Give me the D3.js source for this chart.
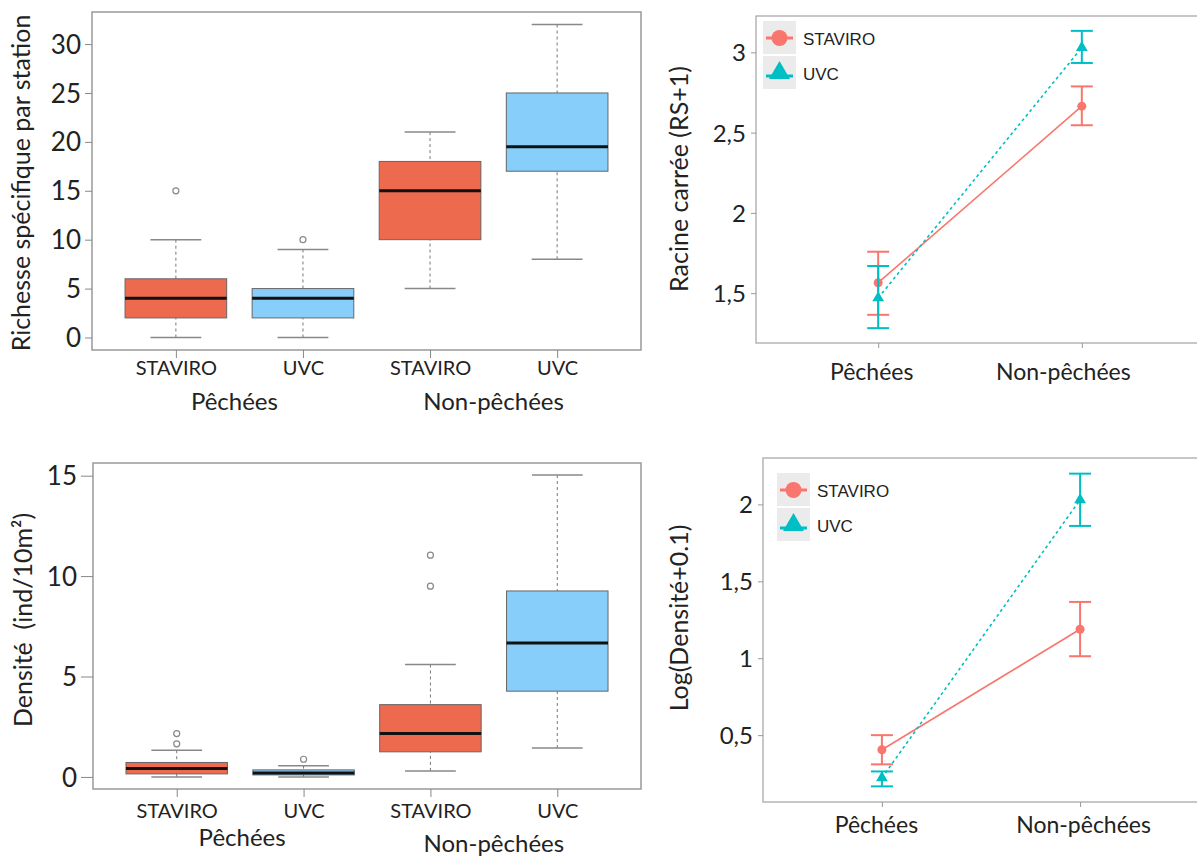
<!DOCTYPE html>
<html>
<head>
<meta charset="utf-8">
<script src="https://cdn.jsdelivr.net/npm/d3@7"></script>
<style>
  body { margin: 0; background: #fff; }
  svg text { font-family: Lato, "Open Sans", sans-serif; fill: #222; }
  .legend text { font-family: "Liberation Sans", Arial, sans-serif; }
</style>
</head>
<body>
<svg id="chart" width="1198" height="859"></svg>
<script>
// categories
const groups = ["Pêchées", "Non-pêchées"];
const methods = ["STAVIRO", "UVC"];
// boxes go STAVIRO/Pêchées, UVC/Pêchées, STAVIRO/Non-pêchées, UVC/Non-pêchées
const boxMethod = [0, 1, 0, 1];

// richesse spécifique par station
const richLo = [0, 0, 5, 8];
const richQ1 = [2, 2, 10, 17];
const richMed = [4, 4, 15, 19.5];
const richQ3 = [6, 5, 18, 25];
const richHi = [10, 9, 21, 32];
const richOut = [[15], [10], [], []];
const richTicks = [0, 5, 10, 15, 20, 25, 30];

// densité (ind/10m2)
const densLo = [0, 0, 0.3, 1.44];
const densQ1 = [0.15, 0.1, 1.25, 4.27];
const densMed = [0.42, 0.2, 2.16, 6.67];
const densQ3 = [0.72, 0.35, 3.6, 9.26];
const densHi = [1.33, 0.56, 5.6, 15.03];
const densOut = [[1.65, 2.16], [0.88], [9.5, 11.04], []];
const densTicks = [0, 5, 10, 15];

// racine carrée (RS+1): mean and interval, per group
const sqrtStaviro = [1.565, 2.665];
const sqrtStaviroLo = [1.365, 2.546];
const sqrtStaviroHi = [1.758, 2.788];
const sqrtUvc = [1.47, 3.03];
const sqrtUvcLo = [1.282, 2.934];
const sqrtUvcHi = [1.669, 3.134];
const sqrtTicks = [1.5, 2, 2.5, 3];

// log(densité+0.1)
const logStaviro = [0.405, 1.188];
const logStaviroLo = [0.31, 1.013];
const logStaviroHi = [0.50, 1.366];
const logUvc = [0.222, 2.03];
const logUvcLo = [0.167, 1.86];
const logUvcHi = [0.264, 2.2];
const logTicks = [0.5, 1, 1.5, 2];

const boxFill = ["#ee6a4f", "#87cefa"];
const lineCol = ["#f8766d", "#00bfc4"];
const frCom = d3.formatLocale({ decimal: ",", thousands: " ", grouping: [3], currency: ["", "€"] }).format("~g");

const svg = d3.select("#chart");

function boxPanel(p) {
  const g = svg.append("g");
  const allVals = p.lo.concat(p.hi, p.out.flat());
  const [mn, mx] = d3.extent(allVals);
  const pad = (mx - mn) * 0.04;
  const x = d3.scaleLinear().domain([0.34, 4.66]).range([p.left, p.right]);
  const y = d3.scaleLinear().domain([mn - pad, mx + pad]).range([p.bottom, p.top]);

  g.append("rect")
    .attr("x", p.left).attr("y", p.top)
    .attr("width", p.right - p.left).attr("height", p.bottom - p.top)
    .attr("fill", "none").attr("stroke", "#999").attr("stroke-width", 1.5);

  const boxes = g.selectAll("g.box").data(d3.range(4)).join("g").attr("class", "box");
  // whiskers
  boxes.append("line")
    .attr("x1", i => x(i + 1)).attr("x2", i => x(i + 1))
    .attr("y1", i => y(p.hi[i])).attr("y2", i => y(p.q3[i]))
    .attr("stroke", "#777").attr("stroke-dasharray", "3,3");
  boxes.append("line")
    .attr("x1", i => x(i + 1)).attr("x2", i => x(i + 1))
    .attr("y1", i => y(p.lo[i])).attr("y2", i => y(p.q1[i]))
    .attr("stroke", "#777").attr("stroke-dasharray", "3,3");
  // caps
  [p.hi, p.lo].forEach(arr => {
    boxes.append("line")
      .attr("x1", i => x(i + 0.8)).attr("x2", i => x(i + 1.2))
      .attr("y1", i => y(arr[i])).attr("y2", i => y(arr[i]))
      .attr("stroke", "#888").attr("stroke-width", 1.5);
  });
  boxes.append("rect")
    .attr("x", i => x(i + 0.6)).attr("width", i => x(i + 1.4) - x(i + 0.6))
    .attr("y", i => y(p.q3[i])).attr("height", i => y(p.q1[i]) - y(p.q3[i]))
    .attr("fill", i => boxFill[boxMethod[i]])
    .attr("stroke", "#666").attr("stroke-width", 1);
  boxes.append("line")
    .attr("x1", i => x(i + 0.6)).attr("x2", i => x(i + 1.4))
    .attr("y1", i => y(p.med[i])).attr("y2", i => y(p.med[i]))
    .attr("stroke", "#111").attr("stroke-width", 3);
  boxes.each(function (i) {
    d3.select(this).selectAll("circle").data(p.out[i]).join("circle")
      .attr("cx", x(i + 1)).attr("cy", d => y(d)).attr("r", 3)
      .attr("fill", "none").attr("stroke", "#888").attr("stroke-width", 1.2);
  });

  // y axis
  const ya = g.append("g").attr("transform", `translate(${p.left},0)`)
    .call(d3.axisLeft(y).tickValues(p.ticks).tickSize(p.yTick).tickPadding(4));
  ya.select(".domain").remove();
  ya.selectAll(".tick line").attr("stroke", "#888");
  ya.selectAll("text").style("font-size", "26px").attr("dy", "0.35em");

  // x axis
  const xa = g.append("g").attr("transform", `translate(0,${p.bottom})`)
    .call(d3.axisBottom(x).tickValues([1, 2, 3, 4]).tickFormat(i => methods[boxMethod[i - 1]])
      .tickSize(8).tickPadding(p.xPad));
  xa.select(".domain").remove();
  xa.selectAll(".tick line").attr("stroke", "#888");
  xa.selectAll("text").style("font-size", "20px");

  g.selectAll("text.grp").data(groups).join("text").attr("class", "grp")
    .attr("x", (d, i) => x(1.5 + 2 * i) + p.grpDx[i])
    .attr("y", (d, i) => p.grpY[i])
    .attr("text-anchor", "middle").style("font-size", "24px")
    .text(d => d);

  g.append("text")
    .attr("transform", `translate(${p.titleX},${p.titleY}) rotate(-90)`)
    .attr("text-anchor", "middle").style("font-size", "25px").style("white-space", "pre")
    .text(p.title);
  return g;
}

function meanPanel(p) {
  const g = svg.append("g");
  const allVals = p.lo[0].concat(p.lo[1], p.hi[0], p.hi[1]);
  const [mn, mx] = d3.extent(allVals);
  const pad = (mx - mn) * 0.05;
  const x = d3.scalePoint().domain(groups).range([p.left, p.right]).padding(0.6);
  const y = d3.scaleLinear().domain([mn - pad, mx + pad]).range([p.bottom, p.top]);

  const clipId = "clip" + p.top;
  svg.append("clipPath").attr("id", clipId).append("rect")
    .attr("x", 0).attr("y", 0).attr("width", 1197).attr("height", 859);

  g.append("rect")
    .attr("x", p.left).attr("y", p.top)
    .attr("width", p.right - p.left).attr("height", p.bottom - p.top)
    .attr("fill", "none").attr("stroke", "#aaa").attr("stroke-width", 1.3)
    .attr("clip-path", `url(#${clipId})`);

  const ya = g.append("g").attr("transform", `translate(${p.left},0)`)
    .call(d3.axisLeft(y).tickValues(p.ticks).tickFormat(frCom).tickSize(5).tickPadding(5));
  ya.select(".domain").remove();
  ya.selectAll(".tick line").attr("stroke", "#999");
  ya.selectAll("text").style("font-size", "24px").attr("dy", "0.35em");

  const xa = g.append("g").attr("transform", `translate(0,${p.bottom})`)
    .call(d3.axisBottom(x).tickSize(5).tickPadding(p.xPad));
  xa.select(".domain").remove();
  xa.selectAll(".tick line").attr("stroke", "#999");
  xa.selectAll("text").style("font-size", "23px").attr("dx", (d, i) => p.labDx[i]);

  g.append("text")
    .attr("transform", `translate(${p.titleX},${p.titleY}) rotate(-90)`)
    .attr("text-anchor", "middle").style("font-size", "25px")
    .text(p.title);

  const series = [
    { mean: p.mean[0], lo: p.lo[0], hi: p.hi[0], col: lineCol[0], dash: null, shape: d3.symbolCircle, size: 64 },
    { mean: p.mean[1], lo: p.lo[1], hi: p.hi[1], col: lineCol[1], dash: "3,3", shape: d3.symbolTriangle, size: 60 }
  ];
  const line = d3.line().x((d, i) => x(groups[i])).y(d => y(d));
  series.forEach(s => {
    g.append("path").attr("d", line(s.mean))
      .attr("fill", "none").attr("stroke", s.col).attr("stroke-width", 1.6)
      .attr("stroke-dasharray", s.dash);
    groups.forEach((grp, i) => {
      const cx = x(grp);
      g.append("line").attr("x1", cx).attr("x2", cx)
        .attr("y1", y(s.lo[i])).attr("y2", y(s.hi[i]))
        .attr("stroke", s.col).attr("stroke-width", 2);
      [s.lo[i], s.hi[i]].forEach(v => {
        g.append("line").attr("x1", cx - 11).attr("x2", cx + 11)
          .attr("y1", y(v)).attr("y2", y(v))
          .attr("stroke", s.col).attr("stroke-width", 2);
      });
      g.append("path").attr("d", d3.symbol(s.shape, s.size)())
        .attr("transform", `translate(${cx},${y(s.mean[i])})`)
        .attr("fill", s.col);
    });
  });

  // legend
  const lg = g.append("g").attr("class", "legend");
  series.forEach((s, k) => {
    const ky = p.legY + k * 35;
    lg.append("rect").attr("x", p.legX).attr("y", ky).attr("width", 33).attr("height", 33)
      .attr("fill", "#ebebeb");
    const cy = ky + 17;
    lg.append("line").attr("x1", p.legX + 3).attr("x2", p.legX + 30)
      .attr("y1", cy + (k ? 3 : 0)).attr("y2", cy + (k ? 3 : 0))
      .attr("stroke", s.col).attr("stroke-width", 3);
    lg.append("path").attr("d", d3.symbol(s.shape, k ? 190 : 200)())
      .attr("transform", `translate(${p.legX + 16.5},${cy})`).attr("fill", s.col);
    lg.append("text").attr("x", p.legX + 40).attr("y", cy + 1)
      .attr("dominant-baseline", "central").style("font-size", "17px")
      .text(methods[k]);
  });
}

boxPanel({
  left: 92, right: 641, top: 12, bottom: 350,
  lo: richLo, q1: richQ1, med: richMed, q3: richQ3, hi: richHi, out: richOut,
  ticks: richTicks, yTick: 7, xPad: 3,
  grpDx: [-5, 0], grpY: [410, 410],
  title: "Richesse spécifique par station", titleX: 30, titleY: 183
});

boxPanel({
  left: 93, right: 641, top: 463, bottom: 789,
  lo: densLo, q1: densQ1, med: densMed, q3: densQ3, hi: densHi, out: densOut,
  ticks: densTicks, yTick: 12, xPad: 7,
  grpDx: [2, 0], grpY: [846, 852],
  title: "Densité  (ind/10m²)", titleX: 32, titleY: 620
});

meanPanel({
  left: 756, right: 1204, top: 16, bottom: 343,
  mean: [sqrtStaviro, sqrtUvc], lo: [sqrtStaviroLo, sqrtUvcLo], hi: [sqrtStaviroHi, sqrtUvcHi],
  ticks: sqrtTicks, xPad: 16, labDx: [-7, -19],
  title: "Racine carrée (RS+1)", titleX: 688, titleY: 179,
  legX: 763, legY: 21
});

meanPanel({
  left: 763, right: 1199, top: 458, bottom: 802,
  mean: [logStaviro, logUvc], lo: [logStaviroLo, logUvcLo], hi: [logStaviroHi, logUvcHi],
  ticks: logTicks, xPad: 10, labDx: [-6, 3],
  title: "Log(Densité+0.1)", titleX: 688, titleY: 618,
  legX: 777, legY: 473
});
</script>
</body>
</html>
